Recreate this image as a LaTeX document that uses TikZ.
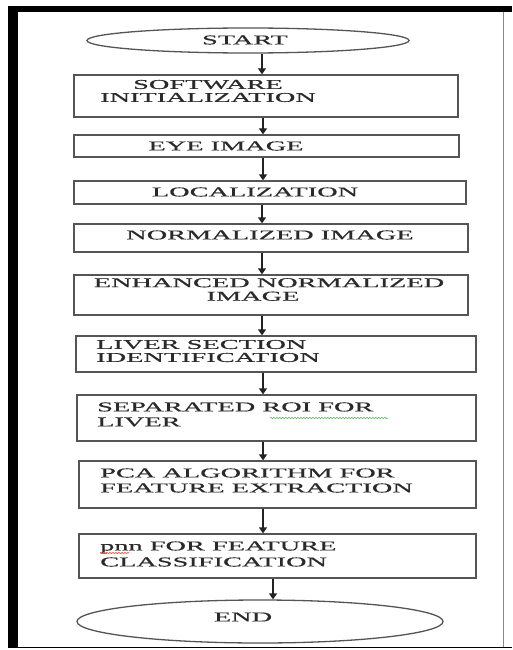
\documentclass[tikz,border=0pt]{standalone}
\usepackage{fontspec}
\usetikzlibrary{arrows.meta,shapes.geometric,decorations.pathmorphing}
\newfontfamily\wide{Liberation Serif}[FakeStretch=2.1,FakeBold=0.6]
\definecolor{linec}{HTML}{555555}
\definecolor{txtc}{HTML}{2A2A2A}
\definecolor{arrc}{HTML}{222222}
\begin{document}
\begin{tikzpicture}[x=1pt,y=-1pt,
  box/.style={draw=linec, line width=1.3pt, rectangle, inner sep=0pt},
  oval/.style={draw=linec, line width=1.3pt, ellipse, inner sep=0pt},
  txt/.style={inner sep=0pt, text=txtc, font=\wide\fontsize{13.5}{#1}\selectfont},
  txt/.default=14,
  arr/.style={draw=arrc, line width=1.3pt, -{Triangle[width=8pt,length=6pt]}},
  squig/.style={line width=0.6pt, decorate, decoration={snake, amplitude=0.8pt, segment length=3pt}}
]
\useasboundingbox (0,0) rectangle (512,650);
\fill[white] (0,0) rectangle (512,650);
% frame
\fill[black] (8,6) rectangle (18,648);
\fill[black] (8,6) rectangle (512,12);
\draw[linec!70, line width=0.8pt] (503,12) -- (503,647);
\draw[black, line width=1pt] (8,647) -- (512,647);

% shapes
\node[oval, minimum width=322pt, minimum height=25pt] (start) at (248,40.5) {};
\node[box, minimum width=384pt, minimum height=42pt] (sw) at (266,96) {};
\node[box, minimum width=385pt, minimum height=22pt] (eye) at (266.5,146) {};
\node[box, minimum width=392pt, minimum height=23pt] (loc) at (270,192.5) {};
\node[box, minimum width=394pt, minimum height=28pt] (norm) at (271,238) {};
\node[box, minimum width=394pt, minimum height=40pt] (enh) at (271,295) {};
\node[box, minimum width=400pt, minimum height=36pt] (liver) at (276,354) {};
\node[box, minimum width=399pt, minimum height=46pt] (roi) at (276.5,418) {};
\node[box, minimum width=397pt, minimum height=47pt] (pca) at (277.5,484.5) {};
\node[box, minimum width=397pt, minimum height=44pt] (pnn) at (277.5,556) {};
\node[oval, minimum width=366pt, minimum height=43pt] (end) at (260,621.5) {};

% texts
\node[txt] (tstart) at (245,40) {START};
\node[txt=13, align=center] (tsw) at (208,91) {SOFTWARE\\INITIALIZATION};
\node[txt] (teye) at (226,146) {EYE IMAGE};
\node[txt] (tloc) at (255,192) {LOCALIZATION};
\node[txt] (tnorm) at (270,235) {NORMALIZED IMAGE};
\node[txt=13.5, align=center] (tenh) at (269,289.5) {ENHANCED NORMALIZED\\\hspace*{-32pt}IMAGE};
\node[txt=13, align=left, anchor=west] (tliver) at (96,351) {LIVER SECTION\\IDENTIFICATION};
\node[txt=15, align=left, anchor=west] (troi) at (97,414.5) {SEPARATED ROI FOR\\LIVER};
\node[txt=15, align=left, anchor=west] (tpca) at (100,480.5) {PCA ALGORITHM FOR\\FEATURE EXTRACTION};
\node[txt=16, align=left, anchor=west] (tpnn) at (100,554) {pnn FOR FEATURE\\CLASSIFICATION};
\node[txt] (tend) at (243,617) {END};

% spell-check squiggles
\coordinate (sq1a) at (270,418);
\coordinate (sq1b) at (388,418);
\draw[squig, green!55!black!60] (sq1a) -- (sq1b);
\coordinate (sq2a) at (100,553);
\coordinate (sq2b) at (129,553);
\draw[squig, red!70] (sq2a) -- (sq2b);

% connectors
\coordinate (ax) at (262,0);
\coordinate (bx) at (263,0);
\coordinate (cx) at (273,0);
\draw[arr] (start.south -| ax) -- (sw.north -| ax);
\draw[arr] (sw.south -| bx) -- (eye.north -| bx);
\draw[arr] (eye.south -| bx) -- (loc.north -| bx);
\draw[arr] (loc.south -| ax) -- (norm.north -| ax);
\draw[arr] (norm.south -| ax) -- (enh.north -| ax);
\draw[arr] (enh.south -| ax) -- (liver.north -| ax);
\draw[arr] (liver.south -| bx) -- (roi.north -| bx);
\draw[arr] (roi.south -| bx) -- (pca.north -| bx);
\draw[arr] (pca.south -| bx) -- (pnn.north -| bx);
\draw[arr] (pnn.south -| cx) -- (end.north -| cx);
\end{tikzpicture}
\end{document}
